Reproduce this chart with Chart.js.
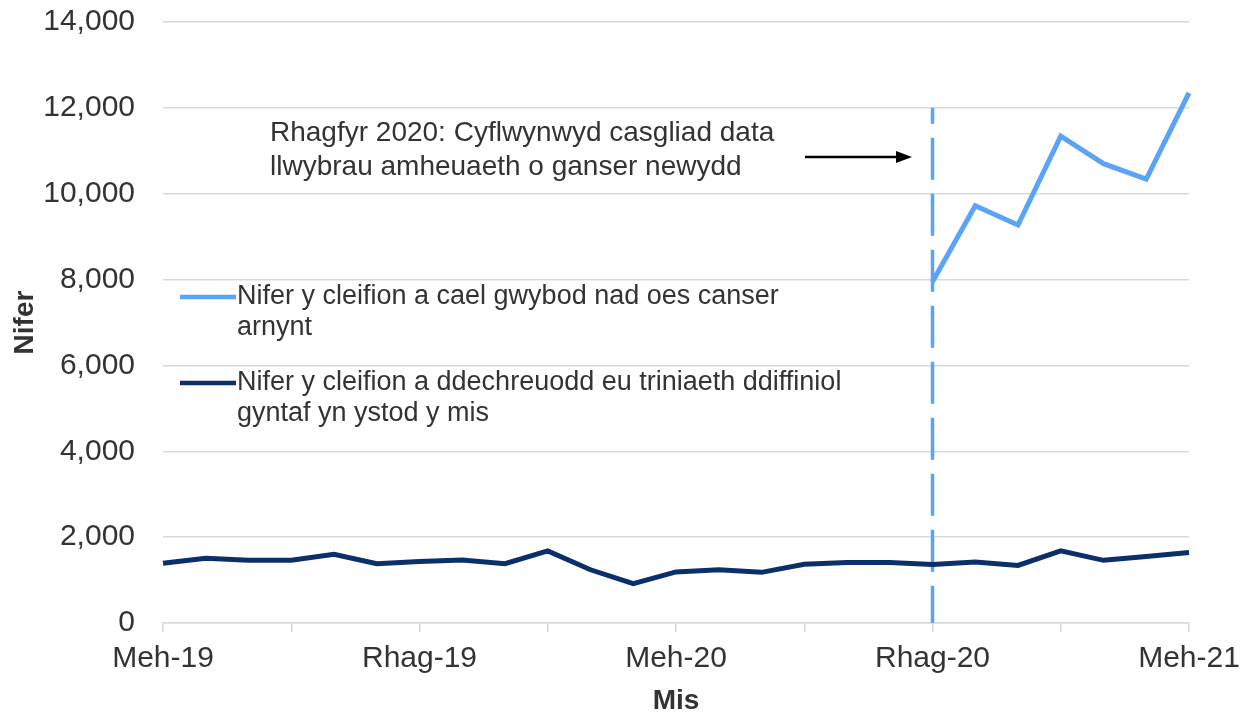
<!DOCTYPE html>
<html>
<head>
<meta charset="utf-8">
<script src="https://cdn.jsdelivr.net/npm/chart.js@4"></script>
<style>
  html, body { margin: 0; padding: 0; background: #fff; }
  #wrap { width: 1249px; height: 718px; position: relative; }
</style>
</head>
<body>
<div id="wrap"><canvas id="lineChart"></canvas></div>
<script>
// Misoedd (Meh-19 .. Meh-21)
const months = [
  "Meh-19","Gor-19","Aws-19","Med-19","Hyd-19","Tach-19","Rhag-19",
  "Ion-20","Chwe-20","Maw-20","Ebr-20","Mai-20","Meh-20",
  "Gor-20","Aws-20","Med-20","Hyd-20","Tach-20","Rhag-20",
  "Ion-21","Chwe-21","Maw-21","Ebr-21","Mai-21","Meh-21"
];

// Cleifion a gafodd wybod nad oes canser (o Rhag-20 ymlaen)
const noCancer = [
  null,null,null,null,null,null,null,null,null,null,null,null,null,
  null,null,null,null,null,
  7950, 9720, 9270, 11340, 10700, 10340, 12350
];

// Cleifion a ddechreuodd eu triniaeth ddiffiniol gyntaf
const firstTreatment = [
  1390, 1510, 1460, 1460, 1600, 1380, 1430, 1470, 1380, 1680, 1240, 915, 1190,
  1240, 1180, 1370, 1410, 1410, 1360, 1420, 1340, 1680, 1460, 1550, 1640
];

const yTicks = [0, 2000, 4000, 6000, 8000, 10000, 12000, 14000];

const legendLabels = [
  ["Nifer y cleifion a cael gwybod nad oes canser", "arnynt"],
  ["Nifer y cleifion a ddechreuodd eu triniaeth ddiffiniol", "gyntaf yn ystod y mis"]
];
const noteLines = ["Rhagfyr 2020: Cyflwynwyd casgliad data", "llwybrau amheuaeth o ganser newydd"];
const markerMonth = "Rhag-20";
const markerTop = 12000;

const LIGHT = "#5AA3F6";
const DARK = "#0B2F6B";
const TEXT = "#333333";
const GRID = "#d9d9d9";
const FONT = "'Liberation Sans', Arial, sans-serif";

// Llinell doredig, allwedd a nodyn
const extras = {
  id: "extras",
  beforeDatasetsDraw(chart) {
    const { ctx, scales: { x, y } } = chart;
    const px = x.getPixelForValue(months.indexOf(markerMonth));
    ctx.save();
    ctx.strokeStyle = LIGHT;
    ctx.lineWidth = 3.5;
    ctx.setLineDash([42, 14]);
    ctx.lineDashOffset = 26;
    ctx.beginPath();
    ctx.moveTo(px, y.getPixelForValue(markerTop));
    ctx.lineTo(px, y.getPixelForValue(0));
    ctx.stroke();
    ctx.restore();
  },
  afterDraw(chart) {
    const { ctx, chartArea: a } = chart;
    ctx.save();
    ctx.font = "27px " + FONT;
    ctx.fillStyle = TEXT;
    ctx.textBaseline = "middle";

    // allwedd
    const colors = [LIGHT, DARK];
    const rows = [297, 383];
    legendLabels.forEach((lines, i) => {
      const ly = rows[i];
      ctx.strokeStyle = colors[i];
      ctx.lineWidth = 4.5;
      ctx.beginPath();
      ctx.moveTo(a.left + 17, ly);
      ctx.lineTo(a.left + 73, ly);
      ctx.stroke();
      lines.forEach((t, j) => ctx.fillText(t, a.left + 74, ly + j * 31));
    });

    // nodyn
    ctx.font = "28px " + FONT;
    noteLines.forEach((t, j) => ctx.fillText(t, a.left + 107, 133 + j * 34));

    // saeth
    ctx.strokeStyle = "#000";
    ctx.fillStyle = "#000";
    ctx.lineWidth = 2.5;
    ctx.beginPath();
    ctx.moveTo(805, 157);
    ctx.lineTo(898, 157);
    ctx.stroke();
    ctx.beginPath();
    ctx.moveTo(912, 157);
    ctx.lineTo(896, 151);
    ctx.lineTo(896, 163);
    ctx.closePath();
    ctx.fill();
    ctx.restore();
  }
};

const ctx = document.getElementById("lineChart");
new Chart(ctx, {
  type: "line",
  data: {
    labels: months,
    datasets: [
      {
        label: legendLabels[0].join(" "),
        data: noCancer,
        borderColor: LIGHT,
        borderWidth: 5,
        pointRadius: 0,
        tension: 0,
        spanGaps: false
      },
      {
        label: legendLabels[1].join(" "),
        data: firstTreatment,
        borderColor: DARK,
        borderWidth: 5,
        pointRadius: 0,
        tension: 0
      }
    ]
  },
  options: {
    responsive: true,
    maintainAspectRatio: false,
    animation: false,
    layout: { padding: { top: 22, right: 60, left: 0, bottom: 0 } },
    plugins: {
      legend: { display: false },
      tooltip: { enabled: false }
    },
    scales: {
      x: {
        grid: {
          drawOnChartArea: false,
          drawTicks: true,
          tickLength: 9,
          color: c => (c.index % 3 === 0 ? GRID : "rgba(0,0,0,0)"),
          lineWidth: 1.5
        },
        border: { display: true, color: GRID, width: 1.5 },
        ticks: {
          autoSkip: false,
          maxRotation: 0,
          padding: 9,
          color: TEXT,
          font: { family: FONT, size: 30 },
          callback: (v, i) => (i % 6 === 0 ? months[i] : "")
        },
        title: {
          display: true,
          text: "Mis",
          color: TEXT,
          font: { family: FONT, size: 28, weight: "bold" },
          padding: { top: 0, bottom: 0 }
        },
        afterFit: s => { s.height = 95; s.paddingLeft = 0; s.paddingRight = 0; }
      },
      y: {
        min: 0,
        max: 14000,
        afterBuildTicks: s => { s.ticks = yTicks.map(v => ({ value: v })); },
        grid: { color: GRID, lineWidth: 1.5, drawTicks: false },
        border: { display: false },
        ticks: {
          padding: 28,
          color: TEXT,
          font: { family: FONT, size: 30 },
          callback: v => v.toLocaleString("en-GB")
        },
        title: {
          display: true,
          text: "Nifer",
          color: TEXT,
          font: { family: FONT, size: 28, weight: "bold" },
          padding: { top: 8, bottom: 0 }
        },
        afterFit: s => { s.width = 163; s.paddingTop = 0; s.paddingBottom = 0; }
      }
    }
  },
  plugins: [extras]
});
</script>
</body>
</html>
